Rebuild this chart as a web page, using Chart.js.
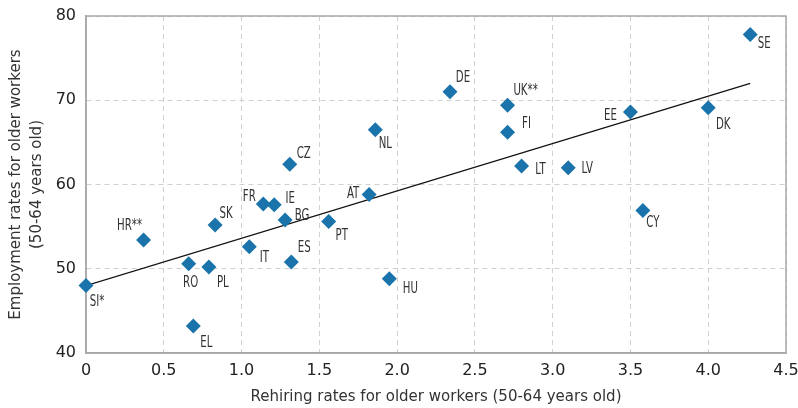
<!DOCTYPE html>
<html>
<head>
<meta charset="utf-8">
<script src="https://cdn.jsdelivr.net/npm/chart.js@4"></script>
<style>
  body { margin: 0; background: #fff; }
  #wrap { width: 798px; height: 408px; }
</style>
</head>
<body>
<div id="wrap"><canvas id="scatter"></canvas></div>
<script>
// DADOS
const countries = ["SE", "DE", "UK**", "FI", "NL", "EE", "DK", "LT", "LV", "CZ", "AT", "FR", "IE",
  "BG", "PT", "SK", "HR**", "IT", "ES", "RO", "PL", "SI*", "HU", "EL", "CY"];
const rehiring = [4.27, 2.34, 2.71, 2.71, 1.86, 3.50, 4.00, 2.80, 3.10, 1.31, 1.82, 1.14, 1.21,
  1.28, 1.56, 0.83, 0.37, 1.05, 1.32, 0.66, 0.79, 0.00, 1.95, 0.69, 3.58];
const employment = [77.8, 71.0, 69.4, 66.2, 66.5, 68.6, 69.1, 62.2, 62.0, 62.4, 58.8, 57.7, 57.6,
  55.8, 55.6, 55.2, 53.4, 52.6, 50.8, 50.6, 50.2, 48.0, 48.8, 43.2, 56.9];
const trendX = [0, 4.27];
const trendY = [48.0, 72.0];
const xTicks = [0, 0.5, 1.0, 1.5, 2.0, 2.5, 3.0, 3.5, 4.0, 4.5];
const yTicks = [40, 50, 60, 70, 80];

// posição dos rótulos (px, relativo ao ponto)
const labelOffsets = {
  "SE": [14, 10], "DE": [13, -14], "UK**": [18, -14], "FI": [19, -8], "NL": [10, 14],
  "EE": [-20, 4], "DK": [15, 17], "LT": [19, 4], "LV": [19, 1], "CZ": [14, -10],
  "AT": [-16, -1], "FR": [-14, -7], "IE": [16, -6], "BG": [17, -4], "PT": [13, 15],
  "SK": [11, -11], "HR**": [-14, -14], "IT": [15, 11], "ES": [13, -14], "RO": [2, 19],
  "PL": [14, 16], "SI*": [11, 17], "HU": [21, 10], "EL": [13, 17], "CY": [10, 12]
};

const points = countries.map((c, i) => ({ x: rehiring[i], y: employment[i], label: c }));
const trend = trendX.map((x, i) => ({ x: x, y: trendY[i] }));

// rótulos dos países, fonte estreita (escala horizontal)
const pointLabels = {
  id: "pointLabels",
  afterDatasetsDraw(chart) {
    const ctx = chart.ctx;
    const meta = chart.getDatasetMeta(1);
    const squeeze = 0.68;
    ctx.save();
    ctx.font = "15px 'DejaVu Sans', sans-serif";
    ctx.fillStyle = "#333";
    ctx.textAlign = "center";
    ctx.textBaseline = "middle";
    meta.data.forEach((el, i) => {
      const c = countries[i];
      const off = labelOffsets[c] || [10, -10];
      ctx.save();
      ctx.translate(el.x + off[0], el.y + off[1]);
      ctx.scale(squeeze, 1);
      ctx.fillText(c, 0, 0);
      ctx.restore();
    });
    ctx.restore();
  }
};

const tickFont = { family: "'DejaVu Sans', sans-serif", size: 16 };
const grid = { color: "#d0d0d0", lineWidth: 1, drawTicks: false };
const border = { display: true, color: "#a8a8a8", width: 1.5, dash: [5, 4] };

new Chart(document.getElementById("scatter"), {
  type: "scatter",
  data: {
    datasets: [{
      type: "line",
      data: trend,
      borderColor: "#111",
      borderWidth: 1.2,
      pointRadius: 0,
      fill: false,
      order: 2
    }, {
      data: points,
      pointStyle: "rectRot",
      pointRadius: 7.5,
      pointHoverRadius: 7.5,
      backgroundColor: "#1a74ab",
      borderColor: "#1a74ab",
      borderWidth: 0,
      clip: false,
      order: 1
    }]
  },
  options: {
    responsive: true,
    maintainAspectRatio: false,
    animation: false,
    layout: { padding: { left: 0, right: 0, top: 16, bottom: 2 } },
    plugins: { legend: { display: false }, tooltip: { enabled: false } },
    scales: {
      x: {
        type: "linear",
        min: 0, max: 4.5,
        afterBuildTicks: (s) => { s.ticks = xTicks.map(v => ({ value: v })); },
        ticks: {
          color: "#222", font: tickFont, padding: 8,
          callback: (v) => v === 0 ? "0" : v.toFixed(1)
        },
        grid: { ...grid },
        border: { ...border },
        title: {
          display: true,
          text: "Rehiring rates for older workers (50-64 years old)",
          color: "#333",
          font: { family: "'DejaVu Sans', sans-serif", size: 15 },
          padding: { top: 4, bottom: 0 }
        },
        afterFit: (s) => { s.height = 53; s.paddingRight = 12; }
      },
      y: {
        type: "linear",
        min: 40, max: 80,
        afterBuildTicks: (s) => { s.ticks = yTicks.map(v => ({ value: v })); },
        ticks: { color: "#222", font: tickFont, padding: 10 },
        grid: { ...grid },
        border: { ...border },
        title: {
          display: true,
          text: ["Employment rates for older workers", "(50-64 years old)"],
          color: "#333",
          font: { family: "'DejaVu Sans', sans-serif", size: 15, lineHeight: 1.4 },
          padding: { top: 6, bottom: 4 }
        },
        afterFit: (s) => { s.width = 86; s.paddingTop = 0; s.paddingBottom = 0; }
      }
    }
  },
  plugins: [pointLabels, {
    id: "frame",
    beforeDatasetsDraw(chart) {
      const a = chart.chartArea;
      const ctx = chart.ctx;
      ctx.save();
      ctx.strokeStyle = "#a8a8a8";
      ctx.lineWidth = 1.5;
      ctx.strokeRect(a.left, a.top, a.right - a.left, a.bottom - a.top);
      ctx.restore();
    }
  }]
});
</script>
</body>
</html>
